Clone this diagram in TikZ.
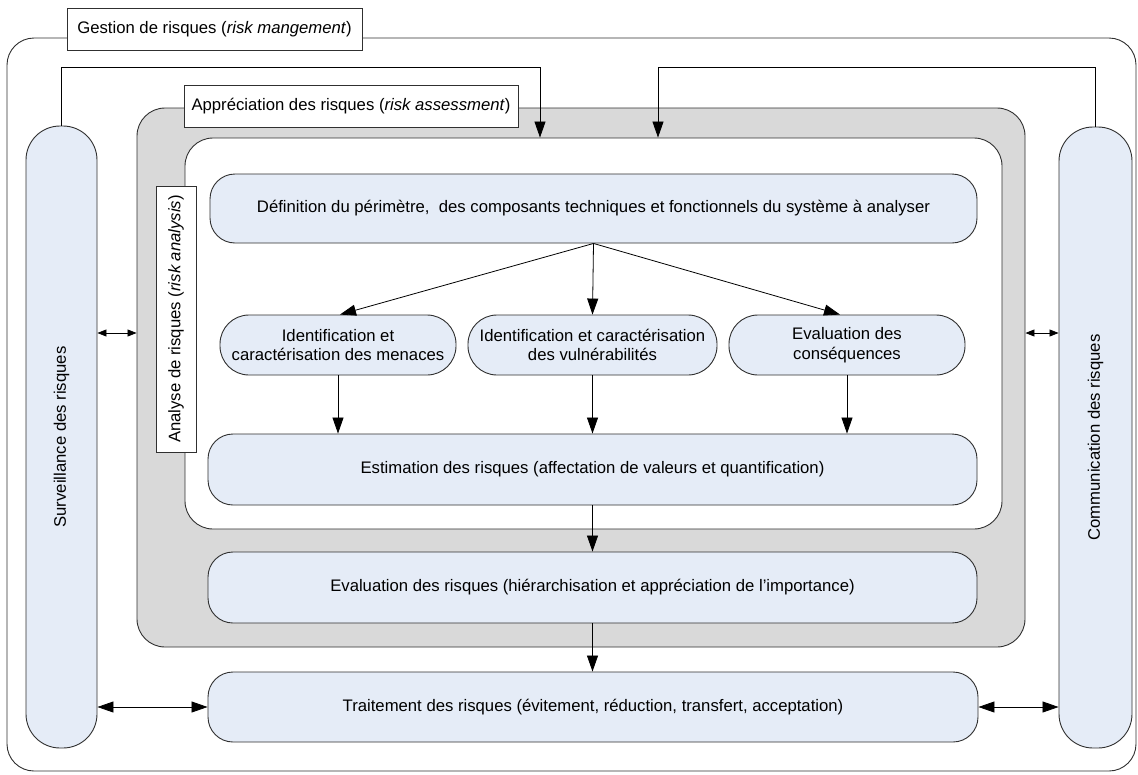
\documentclass[tikz,border=0pt]{standalone}
\usepackage{fontspec}
\setmainfont{Liberation Sans}
\usetikzlibrary{arrows.meta,calc}
\definecolor{boxblue}{HTML}{E5ECF7}
\definecolor{boxgray}{HTML}{D9D9D9}
\definecolor{edge}{HTML}{303030}
\tikzset{
  every node/.style={font=\fontsize{16.7}{19.5}\selectfont, align=center, inner sep=0pt},
  procbox/.style={draw=edge, line width=0.9pt, fill=boxblue, rounded corners=25pt},
  midbox/.style={procbox, rounded corners=29pt},
  pillbox/.style={draw=edge, line width=0.9pt, fill=boxblue, rounded corners=34pt},
  framebox/.style={draw=edge, line width=0.9pt, rounded corners=28pt},
  labelbox/.style={draw=edge, line width=0.9pt, fill=white},
  conn/.style={draw=black, line width=0.8pt},
  bigarr/.style={conn, -{Triangle[length=16pt,width=11pt]}},
  bigdbl/.style={conn, {Triangle[length=16pt,width=11pt]}-{Triangle[length=16pt,width=11pt]}},
  smalldbl/.style={conn, {Triangle[length=9pt,width=7pt]}-{Triangle[length=9pt,width=7pt]}},
}
\begin{document}
\begin{tikzpicture}[x=1pt,y=-1pt]
\useasboundingbox (0,0) rectangle (1138,774);
% outer frame
\draw[framebox, rounded corners=27pt] (7,38) rectangle (1136,771);
\node[labelbox, minimum width=295pt, minimum height=42pt] (gestion) at (214.5,29)
  {Gestion de risques (\textit{risk mangement})};
% side pills
\node[pillbox, minimum width=71pt, minimum height=622pt] (lpill) at (61.5,437)
  {\rotatebox{90}{Surveillance des risques}};
\node[pillbox, minimum width=73pt, minimum height=621pt] (rpill) at (1095.5,437.5)
  {\rotatebox{90}{Communication des risques}};
% assessment frame
\node[framebox, fill=boxgray, minimum width=888pt, minimum height=539pt] (gray) at (581,377.5) {};
\node[framebox, fill=white, minimum width=817pt, minimum height=391pt] (inner) at (593.5,333.5) {};
\node[labelbox, minimum width=334pt, minimum height=42pt] (apprec) at (351,106)
  {Appréciation des risques (\textit{risk assessment})};
\node[labelbox, minimum width=40pt, minimum height=266pt] (analyse) at (176,319)
  {\rotatebox{90}{Analyse de risques (\textit{risk analysis})}};
% process boxes
\node[procbox, minimum width=767pt, minimum height=69pt] (def) at (593.5,208.5)
  {Définition du périmètre,\ \ des composants techniques et fonctionnels du système à analyser};
\node[midbox, minimum width=236pt, minimum height=60pt] (menace) at (338,345)
  {Identification et\\caractérisation des menaces};
\node[midbox, minimum width=249pt, minimum height=60pt] (vuln) at (592.5,345)
  {Identification et caractérisation\\des vulnérabilités};
\node[midbox, minimum width=236pt, minimum height=60pt] (conseq) at (847,345)
  {Evaluation des\\conséquences};
\node[procbox, minimum width=769pt, minimum height=71pt] (estim) at (592.5,469.5)
  {Estimation des risques (affectation de valeurs et quantification)};
\node[procbox, minimum width=769pt, minimum height=71pt] (evalr) at (592.5,587.5)
  {Evaluation des risques (hiérarchisation et appréciation de l’importance)};
\node[procbox, minimum width=770pt, minimum height=70pt] (trait) at (593,707)
  {Traitement des risques (évitement, réduction, transfert, acceptation)};
% helper coordinates
\coordinate (a1) at (540,67);
\coordinate (a2) at (658,67);
\coordinate (midy) at (0,333);
\coordinate (d1) at (340,0);
\coordinate (d3) at (840,0);
% connectors
\draw[bigarr] (lpill.north) |- (a1) -- (a1 |- inner.north);
\draw[bigarr] (rpill.north) |- (a2) -- (a2 |- inner.north);
\draw[bigarr] (def.south) -- (d1 |- menace.north);
\draw[bigarr] (def.south) -- (vuln.north);
\draw[bigarr] (def.south) -- (d3 |- conseq.north);
\draw[bigarr] (menace.south) -- (menace.south |- estim.north);
\draw[bigarr] (vuln.south) -- (vuln.south |- estim.north);
\draw[bigarr] (conseq.south) -- (conseq.south |- estim.north);
\draw[bigarr] (estim.south) -- (estim.south |- evalr.north);
\draw[bigarr] (evalr.south) -- (evalr.south |- trait.north);
\draw[smalldbl] (lpill.east |- midy) -- (gray.west |- midy);
\draw[smalldbl] (gray.east |- midy) -- (rpill.west |- midy);
\draw[bigdbl] (lpill.east |- trait.west) -- (trait.west);
\draw[bigdbl] (trait.east) -- (rpill.west |- trait.east);
\end{tikzpicture}
\end{document}
